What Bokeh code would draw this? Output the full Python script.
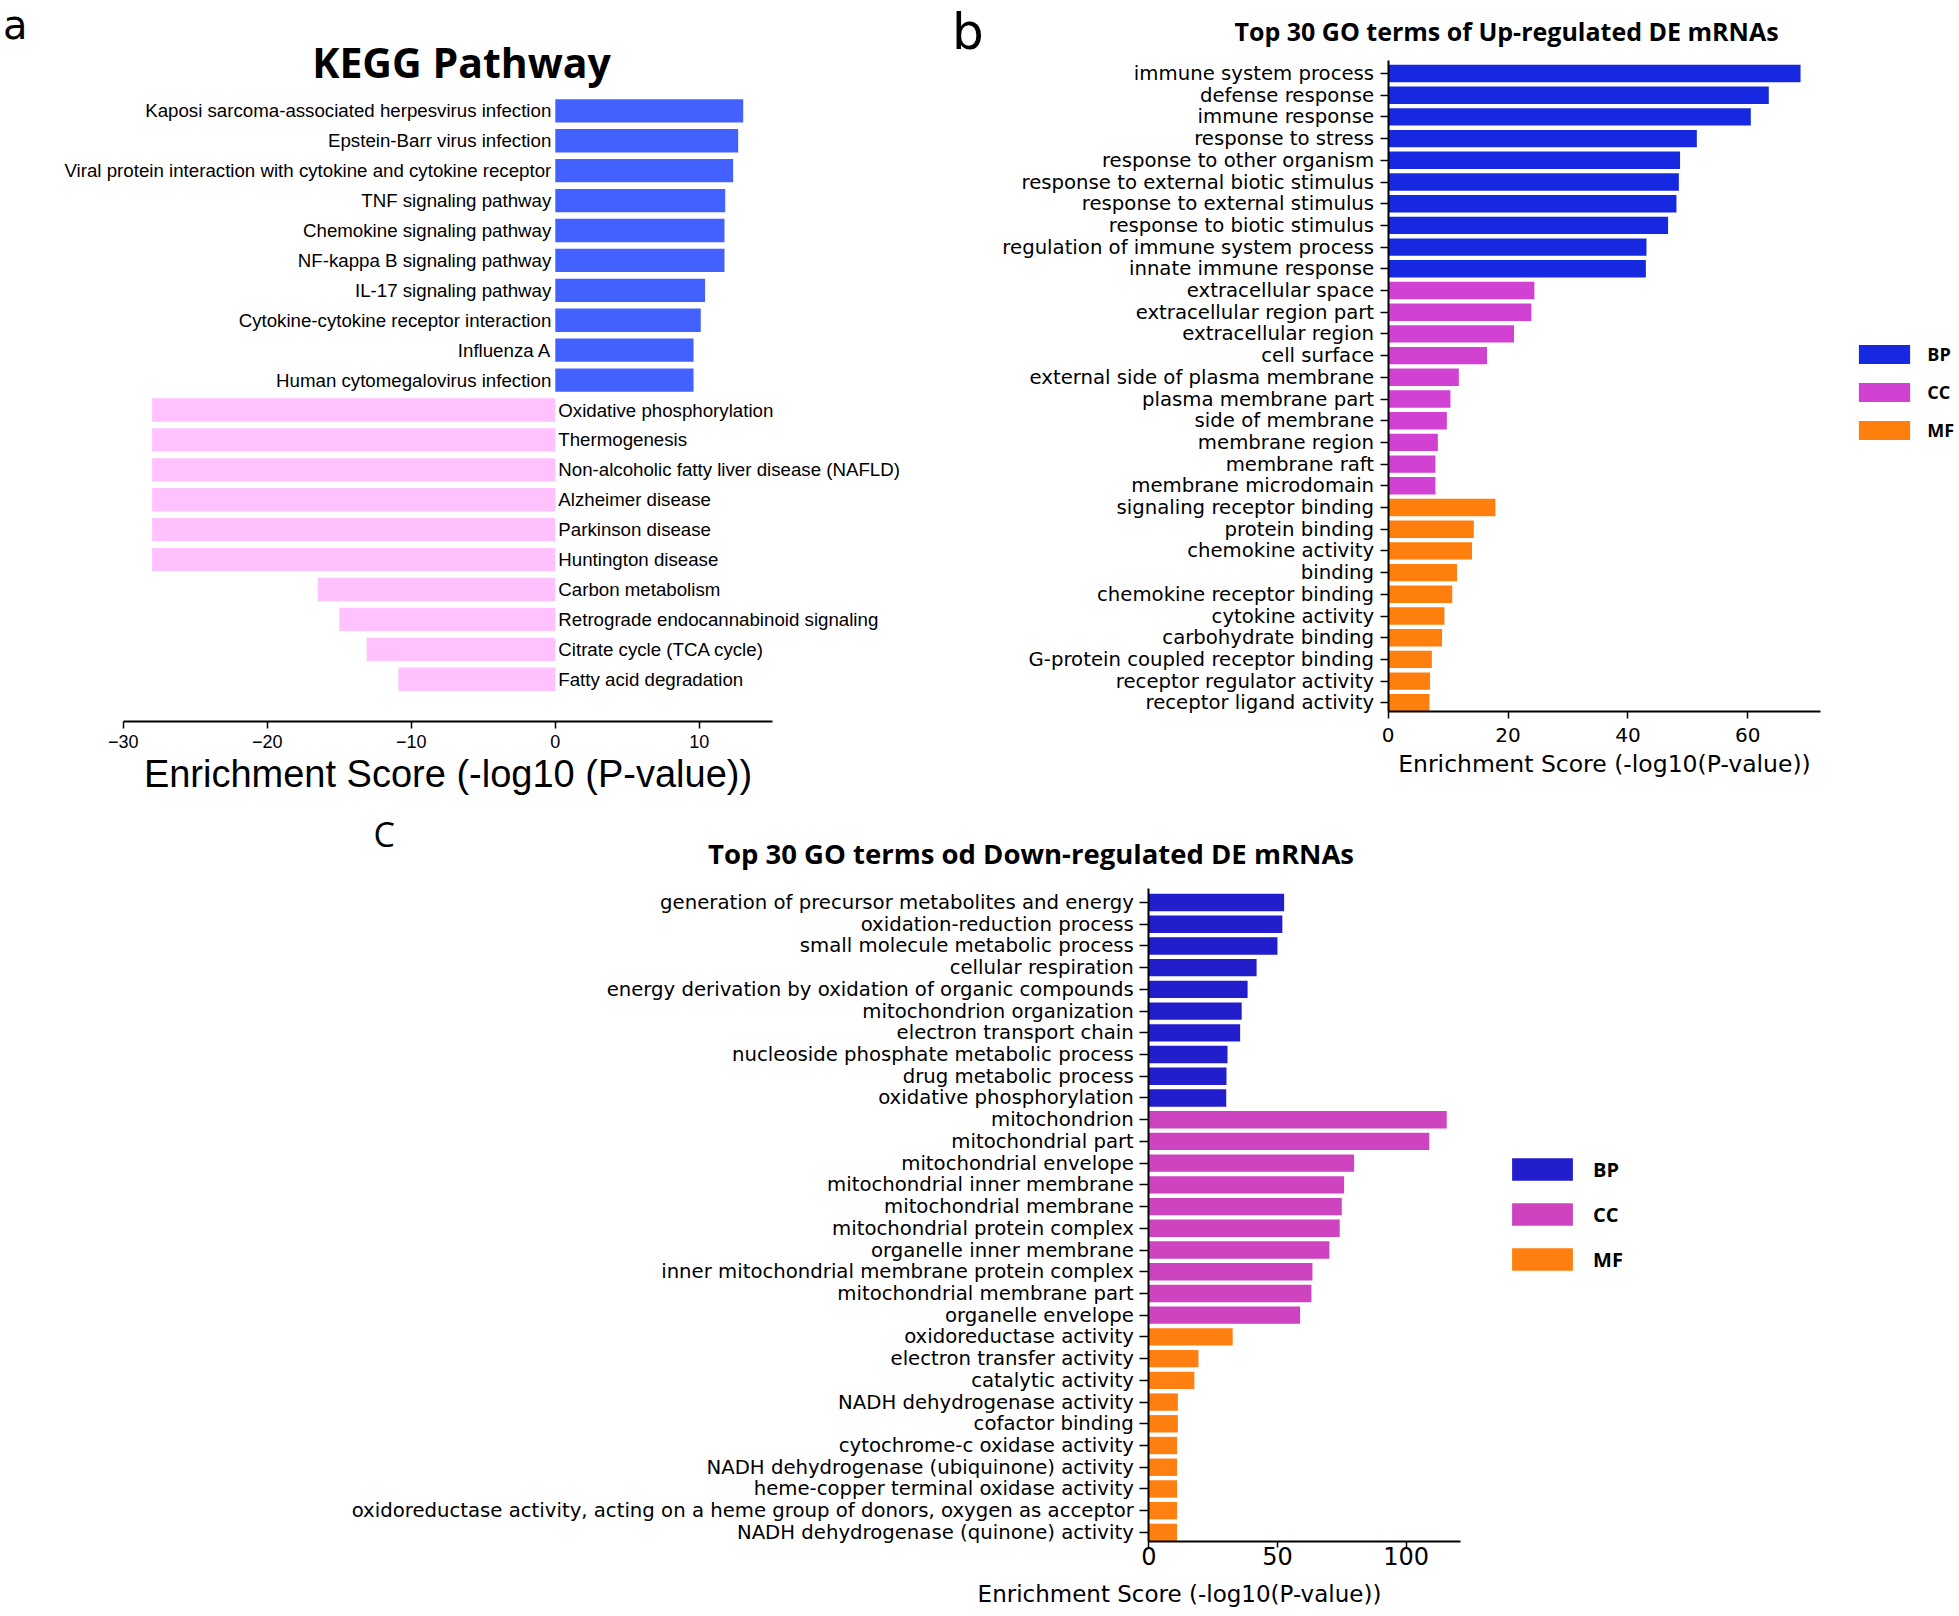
from bokeh.plotting import figure
from bokeh.models import Range1d, FixedTicker, Label, Legend, LegendItem, ColumnDataSource
from bokeh.layouts import column, row
from bokeh.embed import file_html
from bokeh.resources import INLINE
from bokeh.core.properties import value

# ---------------- data ----------------
kegg_terms = [
    "Kaposi sarcoma-associated herpesvirus infection",
    "Epstein-Barr virus infection",
    "Viral protein interaction with cytokine and cytokine receptor",
    "TNF signaling pathway",
    "Chemokine signaling pathway",
    "NF-kappa B signaling pathway",
    "IL-17 signaling pathway",
    "Cytokine-cytokine receptor interaction",
    "Influenza A",
    "Human cytomegalovirus infection",
    "Oxidative phosphorylation",
    "Thermogenesis",
    "Non-alcoholic fatty liver disease (NAFLD)",
    "Alzheimer disease",
    "Parkinson disease",
    "Huntington disease",
    "Carbon metabolism",
    "Retrograde endocannabinoid signaling",
    "Citrate cycle (TCA cycle)",
    "Fatty acid degradation",
]
kegg_scores = [13.05, 12.7, 12.35, 11.8, 11.75, 11.75, 10.4, 10.1, 9.6, 9.6,
               -28.0, -28.0, -28.0, -28.0, -28.0, -28.0, -16.5, -15.0, -13.1, -10.9]
kegg_ticks = [-30, -20, -10, 0, 10]
kegg_tick_labels = ["\u221230", "\u221220", "\u221210", "0", "10"]

up_terms = [
    "immune system process", "defense response", "immune response",
    "response to stress", "response to other organism",
    "response to external biotic stimulus", "response to external stimulus",
    "response to biotic stimulus", "regulation of immune system process",
    "innate immune response",
    "extracellular space", "extracellular region part", "extracellular region",
    "cell surface", "external side of plasma membrane", "plasma membrane part",
    "side of membrane", "membrane region", "membrane raft", "membrane microdomain",
    "signaling receptor binding", "protein binding", "chemokine activity", "binding",
    "chemokine receptor binding", "cytokine activity", "carbohydrate binding",
    "G-protein coupled receptor binding", "receptor regulator activity",
    "receptor ligand activity",
]
up_scores = [68.8, 63.5, 60.5, 51.5, 48.7, 48.5, 48.1, 46.7, 43.1, 43.0,
             24.4, 23.9, 21.0, 16.5, 11.8, 10.4, 9.8, 8.3, 7.9, 7.9,
             17.9, 14.3, 14.0, 11.5, 10.7, 9.4, 9.0, 7.3, 7.0, 6.9]
up_groups = ["BP"] * 10 + ["CC"] * 10 + ["MF"] * 10
up_ticks = [0, 20, 40, 60]

down_terms = [
    "generation of precursor metabolites and energy", "oxidation-reduction process",
    "small molecule metabolic process", "cellular respiration",
    "energy derivation by oxidation of organic compounds", "mitochondrion organization",
    "electron transport chain", "nucleoside phosphate metabolic process",
    "drug metabolic process", "oxidative phosphorylation",
    "mitochondrion", "mitochondrial part", "mitochondrial envelope",
    "mitochondrial inner membrane", "mitochondrial membrane",
    "mitochondrial protein complex", "organelle inner membrane",
    "inner mitochondrial membrane protein complex", "mitochondrial membrane part",
    "organelle envelope",
    "oxidoreductase activity", "electron transfer activity", "catalytic activity",
    "NADH dehydrogenase activity", "cofactor binding", "cytochrome-c oxidase activity",
    "NADH dehydrogenase (ubiquinone) activity", "heme-copper terminal oxidase activity",
    "oxidoreductase activity, acting on a heme group of donors, oxygen as acceptor",
    "NADH dehydrogenase (quinone) activity",
]
down_scores = [52.6, 51.9, 50.0, 41.9, 38.4, 36.1, 35.5, 30.6, 30.2, 30.1,
               115.8, 109.0, 79.8, 75.9, 75.0, 74.2, 70.2, 63.6, 63.2, 58.8,
               32.6, 19.3, 17.7, 11.3, 11.3, 11.0, 11.0, 11.0, 11.0, 11.0]
down_groups = ["BP"] * 10 + ["CC"] * 10 + ["MF"] * 10
down_ticks = [0, 50, 100]
group_names = ["BP", "CC", "MF"]


# ---------------- helpers (layout only) ----------------
class Frame:
    """Page-pixel <-> data mapping for a figure whose frame fills the whole figure."""

    def __init__(self, left, top, width, height, x_zero_px, x_ppu, y_first_px, y_pitch):
        self.left, self.top, self.w, self.h = left, top, width, height
        self.x_zero_px, self.x_ppu = x_zero_px, x_ppu
        self.y_first_px, self.y_pitch = y_first_px, y_pitch
        self.x_range = Range1d(self.dx(left), self.dx(left + width))
        self.y_range = Range1d(self.dy(top + height), self.dy(top))

    def dx(self, px):
        return (px - self.x_zero_px) / self.x_ppu

    def dy(self, py):
        return (py - self.y_first_px) / self.y_pitch


def new_fig(fr):
    p = figure(width=fr.w, height=fr.h, x_range=fr.x_range, y_range=fr.y_range,
               toolbar_location=None, output_backend="svg",
               min_border_left=0, min_border_right=0, min_border_top=0, min_border_bottom=0)
    p.background_fill_color = "white"
    p.border_fill_color = "white"
    p.outline_line_color = None
    p.xgrid.visible = False
    p.ygrid.visible = False
    return p


def style_axis(ax, font, size, tick_out, standoff):
    ax.minor_tick_line_color = None
    ax.major_tick_out = tick_out
    ax.major_tick_in = 0
    ax.axis_line_width = 2
    ax.axis_line_color = "black"
    ax.major_tick_line_width = 1.5
    ax.major_tick_line_color = "black"
    ax.major_label_text_font = font
    ax.major_label_text_font_size = size
    ax.major_label_text_color = "black"
    ax.major_label_standoff = standoff


# half of (ascent - descent) per font, to place a text's baseline with a "middle" anchor
MID = {"Open Sans": 0.388, "DejaVu Sans": 0.346}


def text_label(p, fr, px, baseline_py, text, font, size_px, align, bold=False):
    mid_py = baseline_py - MID[font] * size_px
    p.add_layout(Label(x=fr.dx(px), y=fr.dy(mid_py), text=text, text_font=font,
                       text_font_size=f"{size_px}px",
                       text_font_style="bold" if bold else "normal",
                       text_color="black", text_align=align, text_baseline="middle"))


# ================= panel a =================
fa = Frame(0, 0, 948, 800, 554.8, 14.40, 110.3, 29.92)
pa = new_fig(fa)
pa.yaxis.visible = False
ka = list(range(len(kegg_terms)))
pos_idx = [i for i in ka if kegg_scores[i] > 0]
neg_idx = [i for i in ka if kegg_scores[i] <= 0]
src_pos = ColumnDataSource(dict(y=pos_idx, v=[kegg_scores[i] for i in pos_idx],
                                t=[kegg_terms[i] for i in pos_idx], z=[0] * len(pos_idx)))
src_neg = ColumnDataSource(dict(y=neg_idx, v=[kegg_scores[i] for i in neg_idx],
                                t=[kegg_terms[i] for i in neg_idx], z=[0] * len(neg_idx)))
pa.hbar(y="y", left="z", right="v", height=0.78, source=src_pos, fill_color="#4261FF", line_color=None)
pa.hbar(y="y", left="v", right="z", height=0.78, source=src_neg, fill_color="#FFC2FF", line_color=None)
pa.text(x="z", y="y", text="t", source=src_pos, x_offset=-4, text_align="right", text_baseline="middle",
        text_font=value("Liberation Sans"), text_font_size=value("18.7px"), text_color="black")
pa.text(x="z", y="y", text="t", source=src_neg, x_offset=3, text_align="left", text_baseline="middle",
        text_font=value("Liberation Sans"), text_font_size=value("18.7px"), text_color="black")
xa = pa.xaxis[0]
xa.ticker = FixedTicker(ticks=kegg_ticks)
xa.major_label_overrides = {k: s for k, s in zip(kegg_ticks, kegg_tick_labels)}
xa.bounds = (-30, 15.1)
xa.fixed_location = fa.dy(720.7)
style_axis(xa, "Liberation Sans", "18px", 7, 7)
xa.axis_label = "Enrichment Score (-log10 (P-value))"
xa.axis_label_text_font = "Liberation Sans"
xa.axis_label_text_font_size = "38px"
xa.axis_label_text_font_style = "normal"
xa.axis_label_text_color = "black"
xa.axis_label_standoff = 1
text_label(pa, fa, 2.6, 38.5, "a", "DejaVu Sans", 40, "left")
text_label(pa, fa, 461, 77, "KEGG Pathway", "Open Sans", 41, "center", bold=True)

# ================= panel b =================
fb = Frame(948, 0, 1011, 800, 1387.6, 5.995, 73.0, 21.7)
pb = new_fig(fb)
colors_b = {"BP": "#1729E0", "CC": "#D142D3", "MF": "#FF7F0E"}
rend_b = {}
for g in group_names:
    idx = [i for i, gg in enumerate(up_groups) if gg == g]
    s = ColumnDataSource(dict(y=idx, v=[up_scores[i] for i in idx], z=[0] * len(idx)))
    rend_b[g] = pb.hbar(y="y", left="z", right="v", height=0.8, source=s,
                        fill_color=colors_b[g], line_color=None)
xb = pb.xaxis[0]
xb.ticker = FixedTicker(ticks=up_ticks)
xb.bounds = (0, 72.2)
xb.fixed_location = fb.dy(711.3)
style_axis(xb, "DejaVu Sans", "20px", 7, 9)
xb.axis_label = "Enrichment Score (-log10(P-value))"
xb.axis_label_text_font = "DejaVu Sans"
xb.axis_label_text_font_size = "23.5px"
xb.axis_label_text_font_style = "normal"
xb.axis_label_text_color = "black"
xb.axis_label_standoff = 5
yb = pb.yaxis[0]
yb.ticker = FixedTicker(ticks=list(range(len(up_terms))))
yb.major_label_overrides = {i: t for i, t in enumerate(up_terms)}
yb.bounds = (fb.dy(60), fb.dy(711.3))
yb.fixed_location = 0
style_axis(yb, "DejaVu Sans", "19.7px", 8, 6)
leg_b = Legend(items=[LegendItem(label=g, renderers=[rend_b[g]]) for g in group_names],
               location=(1852.3 - 948, 800 - 442.9), glyph_width=64, glyph_height=24,
               label_height=25, spacing=13, padding=0, margin=0, label_standoff=11,
               label_text_font="Open Sans", label_text_font_style="bold",
               label_text_font_size="18px", label_text_color="black",
               border_line_color=None, background_fill_alpha=0)
pb.add_layout(leg_b)
text_label(pb, fb, 951.5, 49, "b", "DejaVu Sans", 50, "left")
text_label(pb, fb, 1506, 40, "Top 30 GO terms of Up-regulated DE mRNAs", "Open Sans", 25,
           "center", bold=True)

# ================= panel c =================
fc = Frame(0, 800, 1959, 814, 1148.3, 2.573, 902.0, 21.72)
pc = new_fig(fc)
colors_c = {"BP": "#231ECC", "CC": "#CD43C0", "MF": "#FF7F10"}
rend_c = {}
for g in group_names:
    idx = [i for i, gg in enumerate(down_groups) if gg == g]
    s = ColumnDataSource(dict(y=idx, v=[down_scores[i] for i in idx], z=[0] * len(idx)))
    rend_c[g] = pc.hbar(y="y", left="z", right="v", height=0.8, source=s,
                        fill_color=colors_c[g], line_color=None)
xc = pc.xaxis[0]
xc.ticker = FixedTicker(ticks=down_ticks)
xc.bounds = (0, 121.2)
xc.fixed_location = fc.dy(1540.7)
style_axis(xc, "DejaVu Sans", "24px", 6, 0)
yc = pc.yaxis[0]
yc.ticker = FixedTicker(ticks=list(range(len(down_terms))))
yc.major_label_overrides = {i: t for i, t in enumerate(down_terms)}
yc.bounds = (fc.dy(888.3), fc.dy(1540.7))
yc.fixed_location = 0
style_axis(yc, "DejaVu Sans", "19.7px", 9, 6)
leg_c = Legend(items=[LegendItem(label=g, renderers=[rend_c[g]]) for g in group_names],
               location=(1504.1, 1614 - 1273.5), glyph_width=76, glyph_height=28,
               label_height=29, spacing=16, padding=0, margin=0, label_standoff=13,
               label_text_font="Open Sans", label_text_font_style="bold",
               label_text_font_size="20px", label_text_color="black",
               border_line_color=None, background_fill_alpha=0)
pc.add_layout(leg_c)
text_label(pc, fc, 373, 847, "C", "Open Sans", 34, "left")
text_label(pc, fc, 1030.5, 863.3, "Top 30 GO terms od Down-regulated DE mRNAs", "Open Sans",
           27.5, "center", bold=True)
text_label(pc, fc, 1179, 1601.7, "Enrichment Score (-log10(P-value))", "DejaVu Sans", 23,
           "center")

layout = column(row(pa, pb), pc)
open("out.html", "w").write(file_html(layout, INLINE))
